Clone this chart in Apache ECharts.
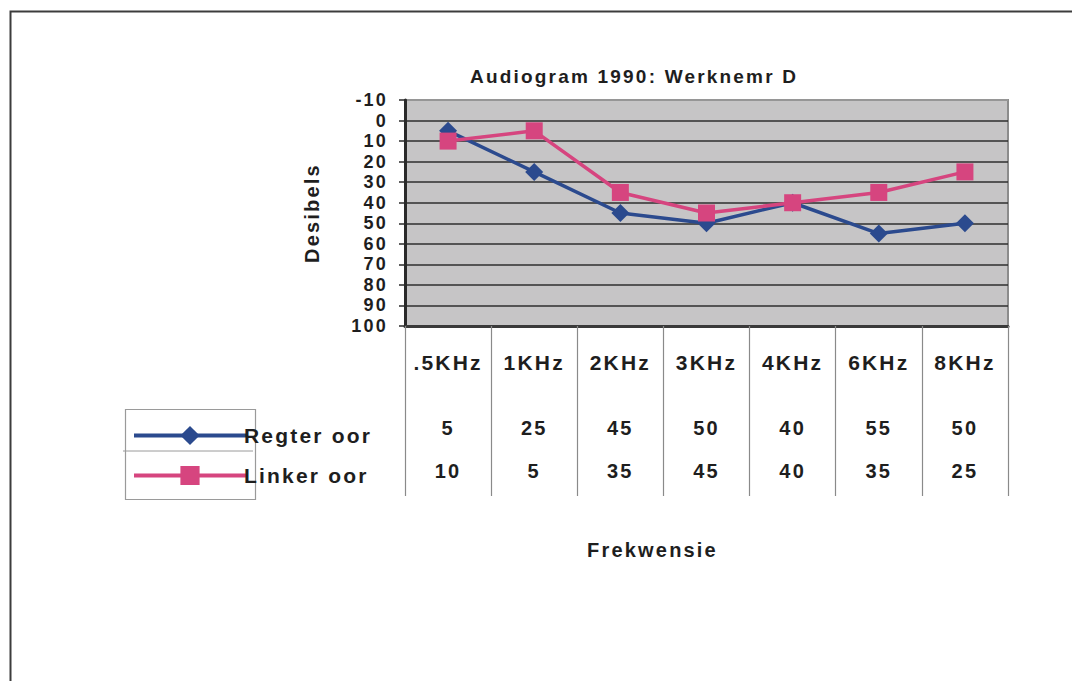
<!DOCTYPE html>
<html>
<head>
<meta charset="utf-8">
<script src="https://cdn.jsdelivr.net/npm/echarts@6/dist/echarts.min.js"></script>
<style>
  html, body { margin: 0; padding: 0; background: #fff; }
  #main { width: 1072px; height: 681px; }
  #main svg text { letter-spacing: 2.2px; }
</style>
</head>
<body>
<div id="main"></div>
<script>
// audiogram data, dB per frequency
const frequencies = ['.5KHz', '1KHz', '2KHz', '3KHz', '4KHz', '6KHz', '8KHz']
const regterOor = [5, 25, 45, 50, 40, 55, 50]
const linkerOor = [10, 5, 35, 45, 40, 35, 25]
const seriesNames = ['Regter oor', 'Linker oor']
const yMin = -10
const yMax = 100
const yStep = 10

const font = '"Liberation Sans", Arial, sans-serif'
const textColor = '#1e1e1e'
const blue = '#2b4a8e'
const pink = '#d6457f'

// gridlines: top border is light, the rest dark
const splitColors = []
for (let v = yMin; v <= yMax; v += yStep) {
  splitColors.push(v === yMin ? '#9a9a9a' : '#2e2e2e')
}

const chart = echarts.init(document.getElementById('main'), null, { renderer: 'svg' })

const boldText = (size) => ({
  fontFamily: font,
  fontWeight: 'bold',
  fontSize: size,
  color: textColor
})

// extra category axes used as the rows of the data table
const tableAxis = (values, margin) => ({
  type: 'category',
  gridIndex: 0,
  position: 'bottom',
  data: values.map(String),
  boundaryGap: true,
  axisLine: { show: false, onZero: false },
  axisTick: { show: false },
  splitLine: { show: false },
  axisLabel: Object.assign({ interval: 0, margin: margin }, boldText(20))
})

chart.setOption({
  backgroundColor: '#ffffff',
  animation: false,
  title: [
    {
      text: 'Audiogram 1990: Werknemr D',
      left: 465,
      top: 62,
      textStyle: boldText(19)
    },
    {
      text: 'Frekwensie',
      left: 582,
      top: 535,
      textStyle: boldText(20)
    }
  ],
  legend: {
    data: seriesNames,
    orient: 'vertical',
    left: 127,
    top: 420,
    itemWidth: 112,
    itemHeight: 24,
    itemGap: 19,
    lineStyle: { width: 4 },
    textStyle: Object.assign({ padding: [0, 0, 0, -7] }, boldText(21))
  },
  grid: {
    left: 405,
    right: 64,
    top: 100,
    bottom: 355,
    show: true,
    backgroundColor: '#c6c5c6',
    borderColor: '#8c8c8c',
    borderWidth: 2
  },
  xAxis: [
    {
      type: 'category',
      data: frequencies,
      boundaryGap: true,
      axisLine: { onZero: false, lineStyle: { color: '#3a3a3a', width: 3 } },
      axisTick: {
        show: true,
        interval: 0,
        length: 170,
        lineStyle: { color: '#8a8a8a', width: 1.2 }
      },
      splitLine: { show: false },
      axisLabel: Object.assign({ interval: 0, margin: 26 }, boldText(21))
    },
    tableAxis(regterOor, 92),
    tableAxis(linkerOor, 135)
  ],
  yAxis: {
    type: 'value',
    inverse: true,
    min: yMin,
    max: yMax,
    interval: yStep,
    name: 'Desibels',
    nameLocation: 'middle',
    nameRotate: 90,
    nameGap: 83,
    nameTextStyle: boldText(20),
    axisLine: { show: true, lineStyle: { color: '#2a2a2a', width: 3 } },
    axisTick: { show: true, length: 6, lineStyle: { color: '#2a2a2a', width: 1.5 } },
    axisLabel: Object.assign({ margin: 17 }, boldText(18)),
    splitLine: { show: true, lineStyle: { color: splitColors, width: 1.6 } }
  },
  series: [
    {
      name: seriesNames[0],
      type: 'line',
      data: regterOor,
      symbol: 'diamond',
      symbolSize: 18,
      itemStyle: { color: blue },
      lineStyle: { color: blue, width: 3.5 },
      z: 3
    },
    {
      name: seriesNames[1],
      type: 'line',
      data: linkerOor,
      symbol: 'rect',
      symbolSize: 17,
      itemStyle: { color: pink },
      lineStyle: { color: pink, width: 3.5 },
      z: 4
    }
  ],
  graphic: [
    // outer frame
    {
      type: 'rect',
      left: 8,
      top: 9,
      shape: { width: 1100, height: 700 },
      style: { fill: 'none', stroke: '#3c3c3c', lineWidth: 2 },
      silent: true
    },
    // legend box with row separator
    {
      type: 'rect',
      left: 123,
      top: 407,
      shape: { width: 130, height: 90 },
      style: { fill: 'none', stroke: '#9a9a9a', lineWidth: 1.2 },
      silent: true
    },
    {
      type: 'line',
      shape: { x1: 123, y1: 451, x2: 253, y2: 451 },
      style: { stroke: '#9a9a9a', lineWidth: 1 },
      silent: true
    }
  ]
})
</script>
</body>
</html>
